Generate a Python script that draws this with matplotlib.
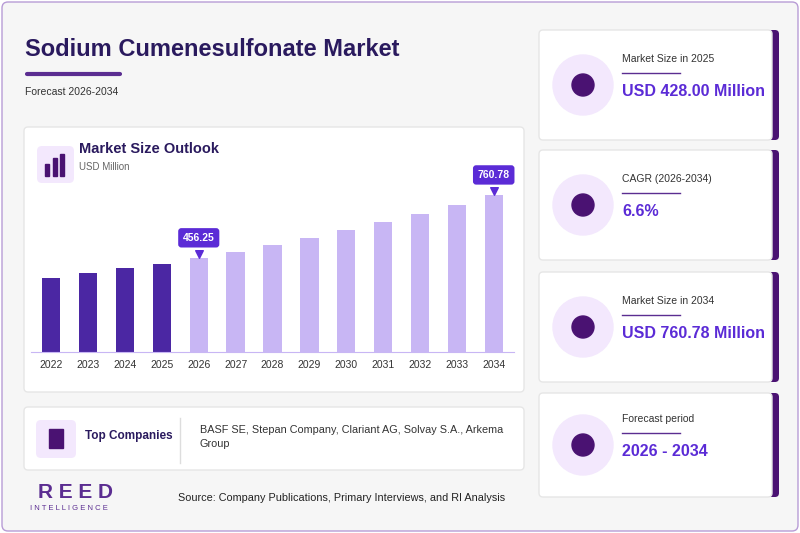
import matplotlib.pyplot as plt
from matplotlib.patches import FancyBboxPatch, Circle, Rectangle

years = ["2022", "2023", "2024", "2025", "2026", "2027", "2028",
         "2029", "2030", "2031", "2032", "2033", "2034"]
values = [358, 381, 405, 428, 456.25, 486, 518, 553, 589, 628, 670, 714, 760.78]
n_hist = 4
callouts = {"2026": "456.25", "2034": "760.78"}

cards = [("Market Size in 2025", "USD 428.00 Million"),
         ("CAGR (2026-2034)", "6.6%"),
         ("Market Size in 2034", "USD 760.78 Million"),
         ("Forecast period", "2026 - 2034")]
companies = "BASF SE, Stepan Company, Clariant AG, Solvay S.A., Arkema\nGroup"

DARK, HIST, FCST, ACC = "#2a1a5e", "#4b27a3", "#c8b6f4", "#5b2bd6"
EDGE, PALE = "#4a1272", "#f3e8fd"

plt.rcParams["font.family"] = ["Liberation Sans", "DejaVu Sans"]
fig = plt.figure(figsize=(8, 5.33), dpi=100)
bg = fig.add_axes([0, 0, 1, 1])
bg.set_xlim(0, 800)
bg.set_ylim(533, 0)
bg.axis("off")


def box(x0, y0, x1, y1, fc="white", ec="none", r=4, lw=1, z=1):
    bg.add_patch(FancyBboxPatch((x0, y0), x1 - x0, y1 - y0, boxstyle=f"round,pad=0,rounding_size={r}",
                                fc=fc, ec=ec, lw=lw, zorder=z))


box(2, 2, 798, 531, fc="#f6f6f6", ec="#b89cd6", r=6)
bg.text(25, 50, "Sodium Cumenesulfonate Market", fontsize=17, fontweight="bold", color=DARK, va="center")
bg.plot([27, 120], [74, 74], color="#5b2d91", lw=3, solid_capstyle="round")
bg.text(25, 92, "Forecast 2026-2034", fontsize=7.5, color="#333333", va="center")

# chart card
box(24, 127, 524, 392, ec="#e6e6e6")
box(37, 146, 74, 183, fc=PALE, r=5, z=2)
for i, h in enumerate([12, 18, 22]):
    bg.add_patch(Rectangle((45 + i * 7.5, 176 - h), 4, h, color=EDGE, zorder=3))
bg.text(79, 149, "Market Size Outlook", fontsize=10.5, fontweight="bold", color=DARK, va="center")
bg.text(79, 167, "USD Million", fontsize=7, color="#666666", va="center")

# companies card
box(24, 407, 524, 470, ec="#e6e6e6")
box(36, 420, 76, 458, fc=PALE, r=5, z=2)
bg.add_patch(Rectangle((49, 429), 14, 19, color=EDGE, zorder=3))
bg.text(85, 436, "Top Companies", fontsize=8.5, fontweight="bold", color=DARK, va="center")
bg.plot([180, 180], [418, 463], color="#dddddd", lw=1)
bg.text(200, 437, companies, fontsize=7.8, color="#333333", va="center", linespacing=1.5)

# logo + source
bg.text(38, 493, "R E E D", fontsize=15, fontweight="bold", color="#5b2d91", va="center")
bg.text(30, 509, "I N T E L L I G E N C E", fontsize=5.5, color="#5b2d91", va="center")
bg.text(178, 498, "Source: Company Publications, Primary Interviews, and RI Analysis",
        fontsize=7.8, color="#222222", va="center")

# right cards
for (label, val), (y0, y1) in zip(cards, [(30, 140), (150, 260), (272, 382), (393, 497)]):
    box(766, y0, 779, y1, fc=EDGE, r=4, z=1)
    box(539, y0, 772, y1, ec="#e6e6e6", r=4, z=2)
    cy = (y0 + y1) / 2
    bg.add_patch(Circle((583, cy), 30, color=PALE, zorder=3))
    bg.add_patch(Circle((583, cy), 11, color=EDGE, zorder=4))
    bg.text(622, cy - 26, label, fontsize=7.5, color="#333333", va="center", zorder=4)
    bg.plot([622, 680], [cy - 12, cy - 12], color="#5b2d91", lw=1, zorder=4)
    bg.text(622, cy + 7, val, fontsize=11.5, fontweight="bold", color=ACC, va="center", zorder=4)

# bars
ax = fig.add_axes([31 / 800, 181 / 533, 483 / 800, 172 / 533])
ax.set_facecolor("none")
x = range(len(years))
colors = [HIST] * n_hist + [FCST] * (len(years) - n_hist)
ax.bar(x, values, width=0.5, color=colors, zorder=2)
ax.set_ylim(0, 833)
ax.set_xlim(-0.55, len(years) - 0.45)
ax.set_xticks(list(x))
ax.set_xticklabels(years, fontsize=7.5, color="#333333")
ax.tick_params(length=0, pad=6)
ax.set_yticks([])
for s in ["top", "right", "left"]:
    ax.spines[s].set_visible(False)
ax.spines["bottom"].set_color(FCST)
for yr, lab in callouts.items():
    i = years.index(yr)
    v = values[i]
    ax.annotate(lab, xy=(i, v + 12), xytext=(0, 9), textcoords="offset points", ha="center", va="bottom",
                fontsize=7.5, fontweight="bold", color="white",
                bbox=dict(boxstyle="round,pad=0.45,rounding_size=0.3", fc=ACC, ec="none"))
    ax.scatter([i], [v + 18], marker="v", s=30, color=ACC, zorder=3)

fig.savefig("out.png", dpi=100)
